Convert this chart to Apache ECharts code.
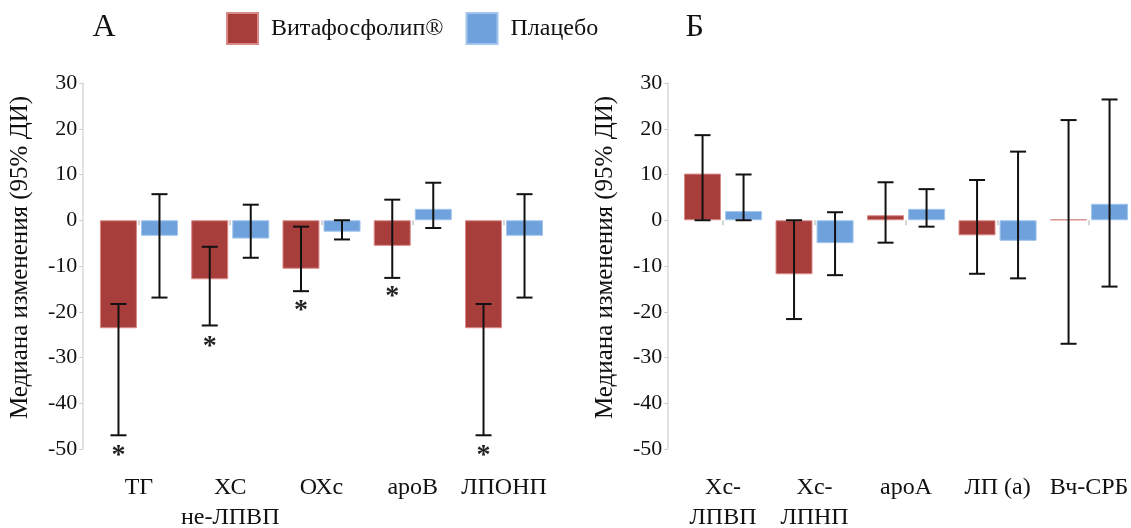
<!DOCTYPE html>
<html>
<head>
<meta charset="utf-8">
<script src="https://cdn.jsdelivr.net/npm/echarts@6/dist/echarts.min.js"></script>
<style>html,body{margin:0;padding:0;background:#fff}#c{width:1131px;height:528px}</style>
</head>
<body>
<div id="c"></div>
<script>
// ---- data ----
const seriesNames = ['Витафосфолип®', 'Плацебо'];
const yTitle = 'Медиана изменения (95% ДИ)';
const panelLetters = ['А', 'Б'];

const catsA = ['ТГ', 'ХС\nне-ЛПВП', 'ОХс', 'apoB', 'ЛПОНП'];
const vitA = [-23.6, -12.9, -10.6, -5.6, -23.6];
const vitA_lo = [-47.0, -23.0, -15.5, -12.6, -47.0];
const vitA_hi = [-18.3, -5.8, -1.4, 4.5, -18.3];
const plaA = [-3.4, -4.0, -2.5, 2.5, -3.4];
const plaA_lo = [-16.9, -8.2, -4.2, -1.7, -16.9];
const plaA_hi = [5.7, 3.4, 0.0, 8.2, 5.7];
const starA = [-50.4, -26.5, -18.6, -15.6, -50.4];

const catsB = ['Хс-\nЛПВП', 'Хс-\nЛПНП', 'apoA', 'ЛП (а)', 'Вч-СРБ'];
const vitB = [10.2, -11.8, 1.1, -3.3, 0.2];
const vitB_lo = [0.0, -21.6, -4.9, -11.7, -27.0];
const vitB_hi = [18.6, 0.0, 8.3, 8.8, 21.9];
const plaB = [2.0, -5.0, 2.5, -4.5, 3.6];
const plaB_lo = [0.0, -12.0, -1.4, -12.7, -14.5];
const plaB_hi = [10.0, 1.75, 6.8, 15.0, 26.4];

const yMin = -50, yMax = 30, yStep = 10;

// ---- style ----
const FONT = '"Liberation Serif", "Times New Roman", serif';
const RED = '#A83E3C', RED_B = '#D98A88';
const BLUE = '#6FA2DC', BLUE_B = '#A3C4EC';
const BAR_W = 37, BAR_OFF = 20.5;

function errSeries(lo, hi, stars, xi, dx) {
  return {
    type: 'custom', xAxisIndex: xi, yAxisIndex: xi, z: 10, silent: true,
    data: lo.map((l, i) => [i, l, hi[i], stars ? stars[i] : NaN]),
    encode: { x: 0, y: [1, 2] },
    renderItem: function (params, api) {
      const i = api.value(0);
      const a = api.coord([i, api.value(1)]);
      const b = api.coord([i, api.value(2)]);
      const x = a[0] + dx, cw = 8;
      const ls = { stroke: '#111', lineWidth: 2 };
      const ch = [
        { type: 'line', shape: { x1: x, y1: a[1], x2: x, y2: b[1] }, style: ls },
        { type: 'line', shape: { x1: x - cw, y1: a[1], x2: x + cw, y2: a[1] }, style: ls },
        { type: 'line', shape: { x1: x - cw, y1: b[1], x2: x + cw, y2: b[1] }, style: ls }
      ];
      const s = api.value(3);
      if (!isNaN(s)) {
        const p = api.coord([i, s]);
        ch.push({ type: 'text', x: x, y: p[1] + 5, style: { text: '*', fontSize: 28, fontFamily: FONT, fontWeight: 'bold', fill: '#222', align: 'center', verticalAlign: 'middle' } });
      }
      return { type: 'group', children: ch };
    }
  };
}

function barSeries(name, data, xi, color, border) {
  return {
    type: 'bar', name: name, xAxisIndex: xi, yAxisIndex: xi, data: data,
    barWidth: BAR_W, barGap: '11%',
    itemStyle: { color: color, borderColor: border, borderWidth: 1 },
    emphasis: { disabled: true }
  };
}

function xAxisDef(cats, gi) {
  return {
    type: 'category', gridIndex: gi, data: cats, position: 'bottom', offset: 18,
    axisLine: { show: false },
    axisTick: { show: true, alignWithLabel: true, length: 5, lineStyle: { color: '#c8c8c8', width: 1.5 } },
    axisLabel: { fontFamily: FONT, fontSize: 24, color: '#111', margin: 6, lineHeight: 30, interval: 0 },
    splitLine: { show: false }
  };
}

function yAxisDef(gi, off) {
  return {
    type: 'value', gridIndex: gi, min: yMin, max: yMax, interval: yStep, offset: off,
    name: yTitle, nameLocation: 'middle', nameRotate: 90, nameGap: 49,
    nameTextStyle: { fontFamily: FONT, fontSize: 25, color: '#111', padding: [0, 0, 0, 17] },
    axisLine: { show: true, lineStyle: { color: '#d9d9d9', width: 1.5 } },
    axisTick: { show: true, length: 3, lineStyle: { color: '#c8c8c8' } },
    axisLabel: { fontFamily: FONT, fontSize: 22, color: '#111', margin: 5 },
    splitLine: { show: false }
  };
}

const chart = echarts.init(document.getElementById('c'), null, { renderer: 'canvas' });
chart.setOption({
  animation: false,
  backgroundColor: '#fff',
  legend: {
    top: 12, left: 226, padding: 0, itemWidth: 31, itemHeight: 31, itemGap: 22,
    icon: 'rect', data: seriesNames,
    textStyle: { fontFamily: FONT, fontSize: 24, color: '#111', padding: [0, 0, 0, 8] }
  },
  grid: [
    { left: 93.35, top: 83, width: 456.3, height: 366, outerBoundsMode: 'none', containLabel: false },
    { left: 677.3, top: 83, width: 457.5, height: 366, outerBoundsMode: 'none', containLabel: false }
  ],
  xAxis: [xAxisDef(catsA, 0), xAxisDef(catsB, 1)],
  yAxis: [yAxisDef(0, 11), yAxisDef(1, 10)],
  graphic: [
    { type: 'text', x: 104, y: 28, style: { text: panelLetters[0], fontFamily: FONT, fontSize: 32, fill: '#111', align: 'center', verticalAlign: 'middle' } },
    { type: 'text', x: 694.7, y: 28, style: { text: panelLetters[1], fontFamily: FONT, fontSize: 32, fill: '#111', align: 'center', verticalAlign: 'middle' } }
  ],
  series: [
    barSeries(seriesNames[0], vitA, 0, RED, RED_B),
    barSeries(seriesNames[1], plaA, 0, BLUE, BLUE_B),
    barSeries(seriesNames[0], vitB, 1, RED, RED_B),
    barSeries(seriesNames[1], plaB, 1, BLUE, BLUE_B),
    errSeries(vitA_lo, vitA_hi, starA, 0, -BAR_OFF),
    errSeries(plaA_lo, plaA_hi, null, 0, BAR_OFF),
    errSeries(vitB_lo, vitB_hi, null, 1, -BAR_OFF),
    errSeries(plaB_lo, plaB_hi, null, 1, BAR_OFF)
  ]
});
</script>
</body>
</html>
